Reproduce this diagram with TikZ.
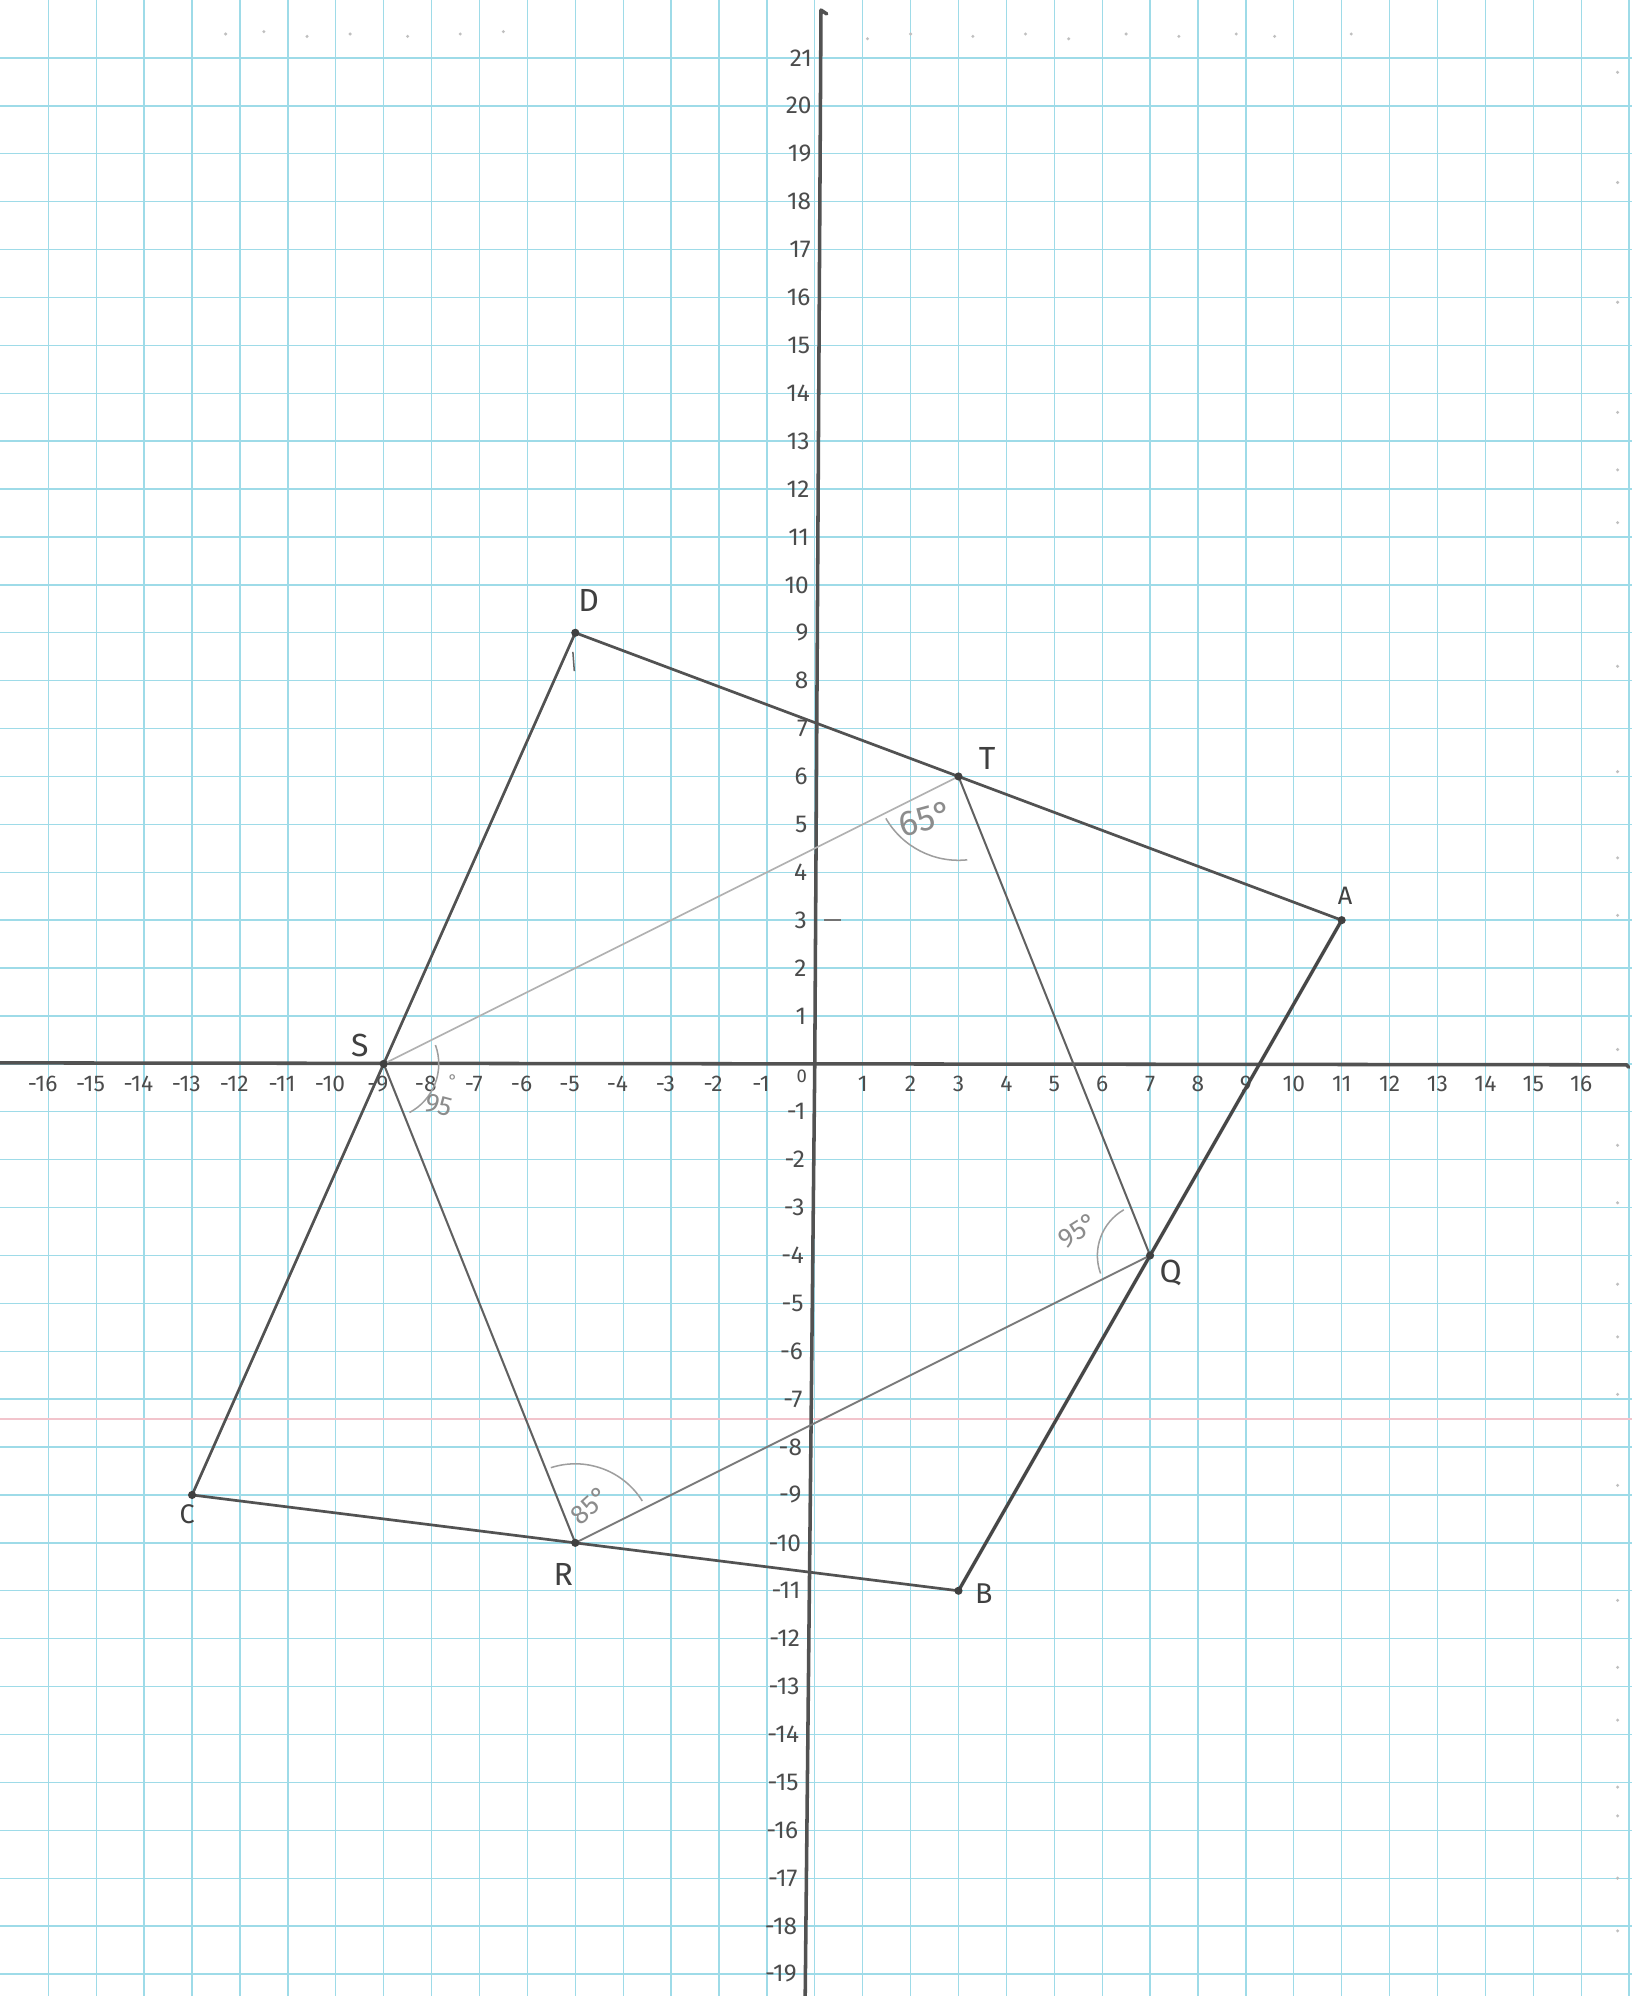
\documentclass[tikz,border=0pt]{standalone}
\usepackage{fontspec}
\setmainfont{Fira Sans}
\definecolor{gridc}{RGB}{158,219,232}
\definecolor{pinkc}{RGB}{242,196,204}
\begin{document}
\begin{tikzpicture}[
  gridline/.style={draw=gridc, line width=0.8pt},
  axisline/.style={draw=black!68, line width=2.1pt, line cap=round, line join=round},
  outer/.style={draw=black!68, line width=1.6pt, line cap=round},
  thickouter/.style={draw=black!72, line width=2pt, line cap=round},
  inner/.style={draw=black!62, line width=1.2pt, line cap=round},
  mid/.style={draw=black!52, line width=1.1pt, line cap=round},
  faint/.style={draw=black!30, line width=1pt, line cap=round},
  ptlabel/.style={text=black!75, font=\fontsize{19}{19}\selectfont},
  xlab/.style={text=black!70, font=\fontsize{13.5}{13.5}\selectfont},
  ylab/.style={text=black!70, font=\fontsize{14.5}{14.5}\selectfont, anchor=east},
  anglab/.style={text=black!45, font=\fontsize{16}{16}\selectfont, inner sep=0pt},
  angarc/.style={draw=black!38, line width=0.9pt},
  speck/.style={fill=black!25},
]
\useasboundingbox (-17.01,-19.46) rectangle (17.06,22.21);
\fill[white] (-17.01,-19.46) rectangle (17.06,22.21);

% graph paper
\foreach \i in {-16,...,17} \draw[gridline] (\i,-19.46) -- (\i,22.21);
\foreach \j in {-19,...,21} \draw[gridline] (-17.01,\j) -- (17.06,\j);
\draw[draw=pinkc, line width=0.9pt] (-17.01,-7.41) -- (17.06,-7.41);

% specks on the paper
\foreach \p in {(-12.3,21.5),(-11.5,21.55),(-10.6,21.45),(-9.7,21.5),(-8.5,21.45),(-7.4,21.5),(-6.5,21.55),(1.1,21.4),(2.0,21.5),(3.3,21.45),(4.4,21.5),(5.3,21.4),(6.5,21.5),(7.6,21.45),(8.8,21.5),(9.6,21.45),(11.2,21.5)}
  \fill[speck] \p circle (0.035);
\foreach \q in {20.7,18.4,15.9,13.6,12.4,11.3,8.3,6.1,4.3,3.1,0.3,-1.7,-2.9,-4.6,-5.7,-6.9,-8.8,-11.2,-12.6,-13.7,-15.1,-15.7,-17.0,-18.1}
  \fill[speck] (16.76,\q) circle (0.035);

% axes
\coordinate (O) at (0,0);
\coordinate (ytop) at (0.13,22.0);
\coordinate (ybot) at (-0.2,-19.46);
\coordinate (xl) at (-17.01,0.02);
\coordinate (xr) at (16.95,-0.02);
\draw[axisline] (xl) -- (O) -- (xr) -- ++(0.04,-0.05);
\draw[axisline] ([xshift=0.12cm,yshift=-0.08cm]ytop) -- (ytop) -- (O) -- (ybot);
\draw[draw=black!55, line width=1pt] (0.2,3) -- (0.55,3);

% axis labels
\foreach \k in {1,...,16} \node[xlab] (xp\k) at (\k,-0.42) {\k};
\foreach \k in {-16,...,-1} \node[xlab] (xn\k) at (\k-0.12,-0.42) {\k};
\node[xlab, font=\fontsize{11}{11}\selectfont] (x0) at (-0.27,-0.25) {0};
\foreach \k in {1,...,21} \node[ylab] (yp\k) at ({0.0059*\k-0.06},\k) {\k};
\foreach \k in {-19,...,-1} \node[ylab] (yn\k) at ({0.0103*\k-0.06},\k) {\k};

% points
\coordinate (A) at (11,3);
\coordinate (B) at (3,-11);
\coordinate (C) at (-13,-9);
\coordinate (D) at (-5,9);
\coordinate (T) at (3,6);
\coordinate (Q) at (7,-4);
\coordinate (R) at (-5,-10);
\coordinate (S) at (-9,0);

% outer quadrilateral
\draw[outer] (D) -- (T) -- (A);
\draw[thickouter] (A) -- (Q) -- (B);
\draw[outer] (B) -- (R) -- (C);
\draw[outer] (C) -- (S) -- (D);
\draw[draw=black!60, line width=0.9pt] (-5.05,8.6) -- (-5.02,8.2);

% inner quadrilateral
\draw[inner] (T) -- (Q);
\draw[inner] (S) -- (R);
\draw[mid] (R) -- (Q);
\draw[faint] (S) -- (T);

% vertex dots
\foreach \v in {A,B,C,D,T,Q,R,S} \fill[black!75] (\v) circle (0.085);

% point labels
\node[ptlabel, font=\fontsize{15}{15}\selectfont] (lA) at (11.07,3.5) {A};
\node[ptlabel, font=\fontsize{17}{17}\selectfont] (lB) at (3.53,-11.05) {B};
\node[ptlabel, font=\fontsize{16}{16}\selectfont] (lC) at (-13.1,-9.4) {C};
\node[ptlabel] (lD) at (-4.72,9.67) {D};
\node[ptlabel] (lT) at (3.6,6.37) {T};
\node[ptlabel] (lQ) at (7.43,-4.36) {Q};
\node[ptlabel] (lR) at (-5.25,-10.67) {R};
\node[ptlabel] (lS) at (-9.5,0.38) {S};

% angle marks
\draw[angarc] ([shift={(210:1.75)}]T) arc[start angle=210, end angle=276, radius=1.75];
\node[anglab, font=\fontsize{21}{21}\selectfont, rotate=15] (aT) at (2.31,5.12) {65°};

\draw[angarc] ([shift={(20:1.15)}]S) arc[start angle=20, end angle=-62, radius=1.15];
\node[anglab, rotate=-15] (aS) at (-7.85,-0.86) {95};
\node[anglab, font=\fontsize{10}{10}\selectfont] (aSd) at (-7.55,-0.35) {°};

\draw[angarc] ([shift={(120:1.1)}]Q) arc[start angle=120, end angle=200, radius=1.1];
\node[anglab, rotate=32] (aQ) at (5.5,-3.48) {95°};

\draw[angarc] ([shift={(32:1.65)}]R) arc[start angle=32, end angle=108, radius=1.65];
\node[anglab, rotate=42] (aR) at (-4.69,-9.21) {85°};
\end{tikzpicture}
\end{document}
